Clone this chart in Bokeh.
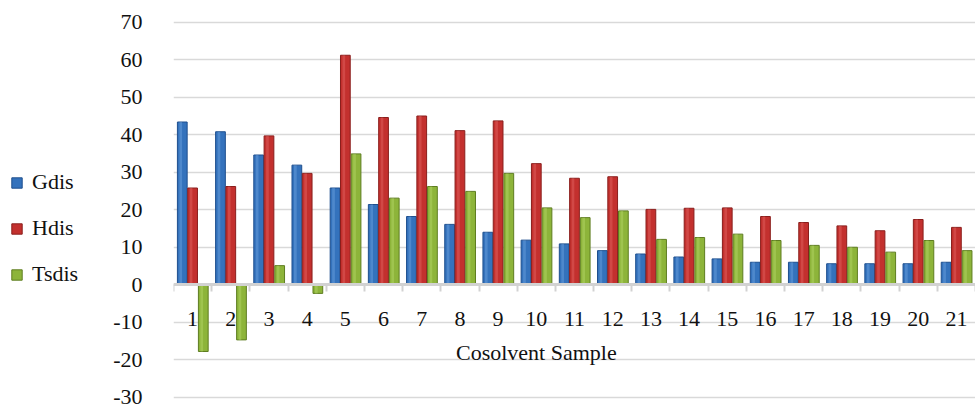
from bokeh.plotting import figure
from bokeh.layouts import row
from bokeh.models import (ColumnDataSource, Range1d, LinearAxis, FixedTicker,
                          Legend, LegendItem, Label)
from bokeh.transform import dodge
from bokeh.embed import file_html
from bokeh.resources import INLINE

categories = [str(i) for i in range(1, 22)]
gdis = [43.4, 40.8, 34.6, 31.9, 25.8, 21.4, 18.2, 16.1, 14.0, 11.9, 10.9,
        9.1, 8.2, 7.4, 6.9, 6.0, 6.0, 5.6, 5.6, 5.6, 6.0]
hdis = [25.8, 26.2, 39.7, 29.7, 61.2, 44.6, 45.0, 41.1, 43.7, 32.3, 28.4,
        28.8, 20.1, 20.4, 20.5, 18.2, 16.6, 15.7, 14.4, 17.4, 15.3]
tsdis = [-17.8, -14.7, 5.1, -2.3, 34.9, 23.1, 26.2, 24.9, 29.7, 20.5, 17.9,
         19.7, 12.1, 12.6, 13.5, 11.8, 10.5, 10.0, 8.7, 11.8, 9.1]
series_names = ["Gdis", "Hdis", "Tsdis"]
y_ticks = [-30, -20, -10, 0, 10, 20, 30, 40, 50, 60, 70]
y_tick_labels = ["-30", "-20", "-10", "0", "10", "20", "30", "40", "50", "60", "70"]
x_title = "Cosolvent Sample"

FONT = "Liberation Serif"
FS = "22px"
colors = ["#3472BC", "#C3302E", "#8DB43A"]
edges = ["#1E4F8E", "#8A1E1C", "#5E7D20"]
highlights = ["#6FA3E0", "#E36764", "#B6D86A"]

LEG_W = 110
xpos = list(range(1, len(categories) + 1))
src = ColumnDataSource(dict(x=xpos, gdis=gdis, hdis=hdis, tsdis=tsdis))

p = figure(width=975 - LEG_W, height=409, output_backend="svg", toolbar_location=None,
           x_range=Range1d(0.5, len(categories) + 0.5), y_range=Range1d(-30.6, 71),
           x_axis_location=None, min_border_left=172 - LEG_W, min_border_right=0,
           min_border_top=18, min_border_bottom=10)
p.outline_line_color = None
p.xgrid.visible = False
p.ygrid.ticker = FixedTicker(ticks=y_ticks)
p.ygrid.grid_line_color = "#D9D9D9"
p.ygrid.grid_line_width = 1.5

for col, off, c, e, h in zip(["gdis", "hdis", "tsdis"], [-0.27, 0.0, 0.28],
                             colors, edges, highlights):
    p.vbar(x=dodge("x", off), top=col, bottom=0, width=0.255, source=src,
           fill_color=c, line_color=e, line_width=1)
    p.vbar(x=dodge("x", off - 0.04), top=col, bottom=0, width=0.07, source=src,
           fill_color=h, fill_alpha=0.45, line_color=None)

# y axis
ya = p.yaxis[0]
ya.ticker = FixedTicker(ticks=y_ticks)
ya.major_label_overrides = {t: l for t, l in zip(y_ticks, y_tick_labels)}
ya.axis_line_color = None
ya.major_tick_line_color = None
ya.minor_tick_line_color = None
ya.major_label_text_font = FONT
ya.major_label_text_font_size = FS
ya.major_label_text_color = "#111111"
ya.major_label_standoff = 25

# x axis at zero
xa = LinearAxis(fixed_location=0,
                ticker=FixedTicker(ticks=xpos, minor_ticks=[x - 0.5 for x in xpos] + [xpos[-1] + 0.5]),
                major_label_overrides={x: c for x, c in zip(xpos, categories)})
xa.axis_line_color = "#D2D2D2"
xa.axis_line_width = 3
xa.major_tick_out = 0
xa.major_tick_in = 0
xa.major_tick_line_color = None
xa.minor_tick_out = 7
xa.minor_tick_in = 0
xa.minor_tick_line_color = "#D2D2D2"
xa.minor_tick_line_width = 2
xa.major_label_text_font = FONT
xa.major_label_text_font_size = FS
xa.major_label_text_color = "#111111"
xa.major_label_standoff = 20
p.add_layout(xa, "below")

p.add_layout(Label(x=10, y=-18, text=x_title, text_align="center",
                   text_baseline="middle", text_font=FONT,
                   text_font_size=FS, text_color="#111111"))

# legend panel (separate figure on the left); its renderers are hidden
lf = figure(width=LEG_W, height=409, output_backend="svg", toolbar_location=None,
            x_range=Range1d(0, 1), y_range=Range1d(0, 1),
            min_border=0, x_axis_location=None, y_axis_location=None)
lf.outline_line_color = None
lf.xgrid.visible = False
lf.ygrid.visible = False
leg_renderers = [lf.vbar(x="x", top=col, width=0.1, source=src, visible=False,
                         fill_color=c, line_color=e, line_width=1)
                 for col, c, e in zip(["gdis", "hdis", "tsdis"], colors, edges)]
legend = Legend(items=[LegendItem(label=n, renderers=[r]) for n, r in zip(series_names, leg_renderers)],
                location=(10, 112), orientation="vertical",
                glyph_width=13, glyph_height=13, label_height=24, spacing=20,
                label_standoff=9, padding=0, margin=0,
                border_line_color=None, background_fill_alpha=0,
                inactive_fill_alpha=0,
                label_text_font=FONT, label_text_font_size=FS,
                label_text_color="#111111")
lf.add_layout(legend, "center")

layout = row(lf, p, spacing=0)
open("out.html", "w").write(file_html(layout, INLINE))
